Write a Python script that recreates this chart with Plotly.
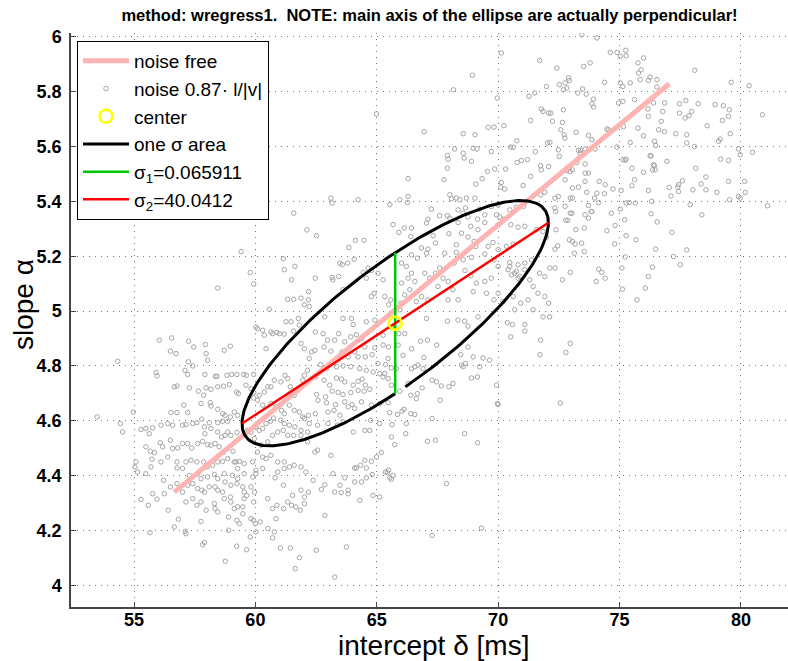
import numpy as np
import plotly.graph_objects as go

TITLE = "method: wregress1.\u00a0 NOTE: main axis of the ellipse are actually perpendicular!"
X_LABEL = "intercept \u03b4 [ms]"
Y_LABEL = "slope \u03b1"
X_TICKS = [55, 60, 65, 70, 75, 80]
X_TICK_TEXT = ["55", "60", "65", "70", "75", "80"]
Y_TICKS = [4.0, 4.2, 4.4, 4.6, 4.8, 5.0, 5.2, 5.4, 5.6, 5.8, 6.0]
Y_TICK_TEXT = ["4", "4.2", "4.4", "4.6", "4.8", "5", "5.2", "5.4", "5.6", "5.8", "6"]
X_RANGE = [52.405, 81.94]
Y_RANGE = [3.921, 6.014]

# noise-free regression line
NOISE_FREE_X = [56.66, 77.05]
NOISE_FREE_Y = [4.340, 5.829]

# estimated centre and the two principal axes of the one-sigma ellipse
CENTER_X = [65.76]
CENTER_Y = [4.956]
SIGMA1_X = [65.76, 65.76]
SIGMA1_Y = [4.699, 5.213]
SIGMA2_X = [59.45, 72.07]
SIGMA2_Y = [4.590, 5.322]
ELLIPSE_GAP = 0.066  # the outline leaves one step open just after its start

# noisy estimates (intercept, slope)
NOISE_POINTS = [
    (61.58, 5.357), (62.12, 5.296), (59.41, 5.217), (61.15, 5.191), (61.63, 5.163), (61.19, 5.151),
    (59.79, 5.141), (61.49, 5.114), (59.93, 5.099), (58.45, 5.084), (62.19, 5.071), (61.33, 5.043),
    (61.58, 5.043), (61.88, 5.047), (62.18, 5.041), (62.01, 5.023), (62.22, 5.017), (60.57, 5.007),
    (70.13, 5.941), (71.71, 5.914), (68.94, 5.86), (68.16, 5.807), (69.96, 5.777), (71.27, 5.783),
    (71.51, 5.795), (71.99, 5.819), (71.78, 5.737), (71.85, 5.728), (72.08, 5.722), (64.99, 5.719),
    (71.34, 5.695), (70.24, 5.676), (69.59, 5.670), (69.83, 5.671), (66.95, 5.654), (68.56, 5.647),
    (69.05, 5.643), (70.77, 5.621), (72.03, 5.613), (72.13, 5.615), (68.21, 5.591), (68.97, 5.594),
    (69.13, 5.591), (70.51, 5.598), (70.62, 5.597), (67.91, 5.567), (67.94, 5.554), (68.56, 5.576),
    (68.60, 5.558), (69.72, 5.582), (71.53, 5.581), (70.96, 5.549), (71.21, 5.552), (70.78, 5.542),
    (71.75, 5.530), (71.78, 5.515), (72.08, 5.527), (68.90, 5.546), (67.91, 5.521), (70.31, 5.518),
    (69.86, 5.518), (69.56, 5.509), (69.34, 5.483), (71.34, 5.491), (71.03, 5.458), (66.29, 5.483),
    (67.77, 5.479), (69.08, 5.463), (70.13, 5.469), (70.11, 5.452), (70.27, 5.445), (71.75, 5.424),
    (71.92, 5.433), (68.01, 5.424), (66.29, 5.418), (65.95, 5.406), (66.26, 5.396), (64.23, 5.406),
    (63.11, 5.412), (63.16, 5.394), (65.54, 5.388), (67.25, 5.372), (68.08, 5.410), (68.28, 5.412),
    (68.42, 5.406), (68.69, 5.412), (69.04, 5.412), (69.24, 5.372), (68.65, 5.376), (68.56, 5.357),
    (68.35, 5.369), (69.45, 5.351), (69.72, 5.381), (70.00, 5.388), (70.48, 5.369), (70.75, 5.379),
    (71.05, 5.382), (67.11, 5.335), (67.05, 5.321), (67.59, 5.348), (67.91, 5.348), (68.01, 5.339),
    (68.35, 5.323), (68.76, 5.343), (69.15, 5.335), (68.87, 5.309), (69.17, 5.297), (69.45, 5.323),
    (69.93, 5.351), (70.07, 5.343), (70.24, 5.335), (70.00, 5.315), (70.52, 5.315), (70.82, 5.306),
    (71.10, 5.309), (71.58, 5.297), (71.85, 5.290), (71.99, 5.270), (67.97, 5.282), (68.28, 5.242),
    (68.76, 5.270), (69.01, 5.254), (69.08, 5.236), (68.49, 5.284), (69.59, 5.236), (69.79, 5.250),
    (70.00, 5.224), (70.34, 5.236), (70.62, 5.244), (67.32, 5.275), (67.42, 5.248), (66.43, 5.303),
    (66.13, 5.303), (66.40, 5.272), (65.91, 5.287), (65.67, 5.315), (64.12, 5.258), (64.48, 5.258),
    (63.85, 5.232), (62.52, 5.275), (66.84, 5.230), (67.11, 5.226), (67.05, 5.211), (66.43, 5.205),
    (66.67, 5.193), (67.80, 5.211), (68.28, 5.214), (68.56, 5.187), (68.19, 5.175), (68.90, 5.196),
    (69.45, 5.208), (69.83, 5.187), (70.00, 5.163), (70.48, 5.177), (70.82, 5.169), (71.10, 5.175),
    (70.41, 5.151), (70.68, 5.138), (70.82, 5.120), (71.37, 5.187), (71.71, 5.138), (71.92, 5.126),
    (72.13, 5.157), (63.48, 5.175), (63.58, 5.169), (63.80, 5.175), (64.07, 5.189), (63.16, 5.123),
    (63.19, 5.114), (63.43, 5.126), (62.47, 5.120), (63.61, 5.078), (64.44, 5.141), (64.64, 5.157),
    (64.78, 5.148), (64.57, 5.120), (65.05, 5.138), (65.26, 5.114), (64.89, 5.065), (64.78, 5.053),
    (65.33, 5.053), (65.58, 5.041), (65.49, 5.023), (66.02, 5.175), (66.22, 5.163), (66.43, 5.138),
    (66.29, 5.120), (66.57, 5.108), (66.02, 5.102), (66.36, 5.078), (66.15, 5.059), (65.99, 5.029),
    (65.95, 5.005), (66.98, 5.138), (67.18, 5.120), (67.42, 5.138), (67.59, 5.157), (67.73, 5.120),
    (67.52, 5.090), (67.94, 5.108), (68.14, 5.078), (68.35, 5.041), (67.94, 5.041), (66.84, 5.053),
    (66.63, 5.035), (67.11, 5.041), (68.63, 5.148), (68.87, 5.129), (69.10, 5.102), (69.45, 5.108),
    (69.72, 5.120), (68.97, 5.071), (69.52, 5.065), (69.83, 5.041), (70.00, 5.065), (70.20, 5.035),
    (70.62, 5.053), (70.48, 5.163), (70.55, 5.132), (70.75, 5.145), (70.89, 5.126), (71.10, 5.151),
    (71.30, 5.114), (71.44, 5.090), (71.64, 5.065), (71.92, 5.053), (72.08, 5.029), (71.23, 5.041),
    (70.93, 5.029), (70.68, 5.005), (71.44, 5.005),
    (73.45, 6.008), (74.07, 5.996), (72.42, 5.886), (73.52, 5.892), (73.79, 5.905), (72.52, 5.826),
    (72.76, 5.832), (72.90, 5.850), (72.93, 5.841), (72.69, 5.807), (72.83, 5.813), (73.28, 5.795),
    (73.63, 5.791), (73.48, 5.810), (73.93, 5.773), (73.86, 5.756), (73.93, 5.744), (74.38, 5.834),
    (74.62, 5.943), (74.90, 5.943), (75.03, 5.929), (75.26, 5.951), (75.27, 5.931), (75.14, 5.819),
    (75.03, 5.832), (75.44, 5.832), (75.62, 5.771), (75.14, 5.765), (74.96, 5.759), (75.76, 5.905),
    (75.89, 5.880), (75.99, 5.923), (75.78, 5.868), (76.26, 5.853), (75.85, 5.844), (76.19, 5.841),
    (76.54, 5.844), (76.54, 5.817), (78.10, 5.878), (79.60, 5.834), (80.34, 5.822), (72.17, 5.722),
    (72.24, 5.692), (72.69, 5.734), (72.65, 5.688), (72.58, 5.661), (72.72, 5.643), (72.75, 5.631),
    (73.21, 5.652), (73.72, 5.641), (73.86, 5.625), (73.58, 5.591), (73.99, 5.591), (73.40, 5.586),
    (72.48, 5.588), (72.52, 5.564), (74.48, 5.664), (74.55, 5.661), (74.89, 5.598), (75.16, 5.673),
    (75.14, 5.552), (75.27, 5.554), (75.44, 5.615), (75.76, 5.667), (75.99, 5.639), (76.19, 5.710),
    (76.17, 5.737), (76.40, 5.759), (76.61, 5.661), (76.72, 5.692), (76.78, 5.728), (76.86, 5.759),
    (76.85, 5.654), (76.44, 5.619), (76.49, 5.604), (76.30, 5.566), (76.40, 5.534), (76.47, 5.515),
    (76.95, 5.546), (77.47, 5.756), (77.73, 5.768), (77.47, 5.722), (77.86, 5.712), (77.97, 5.728),
    (78.24, 5.756), (77.70, 5.704), (77.77, 5.643), (77.32, 5.647), (77.77, 5.613), (78.09, 5.600),
    (78.14, 5.521), (78.94, 5.753), (79.28, 5.749), (79.52, 5.734), (79.49, 5.710), (79.24, 5.695),
    (78.61, 5.676), (79.56, 5.647), (79.15, 5.627), (79.08, 5.619), (79.90, 5.591), (79.97, 5.570),
    (80.48, 5.579), (80.89, 5.716), (79.17, 5.554), (79.49, 5.549), (79.49, 5.473), (79.90, 5.418),
    (79.97, 5.412), (80.18, 5.433), (80.15, 5.473), (81.10, 5.384), (79.53, 5.406), (79.01, 5.433),
    (78.56, 5.489), (78.36, 5.464), (78.56, 5.442), (78.02, 5.442), (77.91, 5.388), (78.39, 5.351),
    (77.59, 5.475), (77.43, 5.461), (77.43, 5.436), (77.40, 5.452), (77.05, 5.451), (77.12, 5.420),
    (77.16, 5.287), (77.77, 5.223), (77.50, 5.169), (77.22, 5.199), (75.51, 5.521), (75.23, 5.550),
    (75.62, 5.479), (75.51, 5.457), (75.99, 5.506), (76.19, 5.440), (76.33, 5.400), (76.36, 5.515),
    (76.44, 5.530), (76.26, 5.566), (75.65, 5.394), (75.27, 5.394), (75.40, 5.396), (75.07, 5.440),
    (75.03, 5.372), (75.21, 5.333), (75.27, 5.275), (75.68, 5.260), (75.23, 5.197), (75.10, 5.157),
    (75.12, 5.080), (76.06, 5.084), (75.72, 5.041), (76.19, 5.126), (76.36, 5.160), (76.49, 5.226),
    (76.30, 5.355), (76.55, 5.325), (74.73, 5.445), (74.66, 5.357), (74.82, 5.312), (74.80, 5.245),
    (74.48, 5.293), (74.41, 5.461), (74.38, 5.428), (74.16, 5.473), (74.07, 5.430), (74.14, 5.396),
    (73.86, 5.363), (73.97, 5.412), (73.65, 5.433), (73.58, 5.473), (73.58, 5.503), (73.72, 5.503),
    (73.58, 5.536), (73.38, 5.576), (73.31, 5.586), (73.24, 5.542), (73.06, 5.515), (72.97, 5.509),
    (72.83, 5.513), (72.76, 5.479), (73.06, 5.449), (73.31, 5.452), (72.97, 5.412), (73.06, 5.412),
    (72.48, 5.418), (72.34, 5.412), (72.76, 5.382), (72.34, 5.376), (72.37, 5.363), (72.97, 5.357),
    (72.87, 5.331), (72.79, 5.331), (73.04, 5.357), (73.58, 5.351), (73.72, 5.385), (73.83, 5.363),
    (73.55, 5.303), (73.72, 5.339), (73.20, 5.297), (73.06, 5.254), (73.17, 5.245), (72.93, 5.260),
    (73.14, 5.211), (73.44, 5.248), (73.55, 5.217), (72.45, 5.238), (72.34, 5.226), (72.38, 5.297),
    (72.34, 5.157), (72.97, 5.141), (72.65, 5.114), (74.14, 5.153), (74.27, 5.141), (74.41, 5.120),
    (74.04, 5.108),
    (72.97, 4.882), (72.79, 4.849), (72.56, 4.665),
    (70.38, 4.958), (70.59, 4.951), (71.10, 4.951), (70.52, 4.906), (71.10, 4.927), (71.75, 4.894),
    (71.72, 4.841), (71.85, 4.979), (72.12, 4.979), (69.93, 4.730), (69.97, 4.663), (70.00, 4.659),
    (69.65, 4.821), (69.38, 4.829), (69.15, 4.760), (69.24, 4.797), (68.90, 4.756), (68.56, 4.797),
    (68.46, 4.841), (68.76, 4.869), (68.97, 4.833), (68.62, 4.553), (69.15, 4.520), (67.87, 4.371),
    (69.31, 4.209), (67.28, 4.182), (67.42, 4.529), (67.09, 4.525), (67.28, 4.608), (67.61, 4.675),
    (67.66, 4.727), (67.97, 4.724), (68.14, 4.736), (67.28, 4.748), (67.46, 4.742), (66.87, 4.720),
    (66.67, 4.699), (66.40, 4.693), (66.57, 4.623), (66.40, 4.626), (66.22, 4.590), (66.19, 4.553),
    (65.63, 4.586), (65.53, 4.630), (65.85, 4.623), (65.74, 4.513), (65.60, 4.541), (66.04, 4.635),
    (66.12, 4.642), (66.63, 4.681), (65.12, 4.590), (65.12, 4.322), (64.78, 4.452), (64.51, 4.456),
    (64.34, 4.438), (64.16, 4.428), (64.57, 4.392), (64.81, 4.404), (65.36, 4.413), (65.49, 4.420),
    (65.60, 4.387), (63.68, 4.392), (63.82, 4.334), (63.54, 4.338), (63.27, 4.340), (63.20, 4.407),
    (62.72, 4.350), (62.38, 4.383), (62.86, 4.255), (63.75, 4.140), (62.51, 4.128), (63.27, 4.030),
    (64.30, 4.310),
    (62.86, 4.979), (63.61, 4.973), (63.96, 4.973), (64.03, 4.951), (64.57, 4.961), (64.92, 4.967),
    (62.47, 4.924), (62.79, 4.918), (62.97, 4.894), (63.27, 4.894), (63.43, 4.918), (63.68, 4.888),
    (63.93, 4.906), (64.16, 4.914), (64.37, 4.900), (64.51, 4.869), (64.92, 4.866), (65.26, 4.876),
    (65.49, 4.869), (62.31, 4.851), (62.45, 4.857), (62.83, 4.869), (63.11, 4.854), (63.57, 4.851),
    (63.82, 4.833), (64.09, 4.851), (64.23, 4.833), (64.53, 4.833), (64.81, 4.841), (65.05, 4.809),
    (65.36, 4.805), (65.60, 4.793), (62.69, 4.805), (62.93, 4.790), (63.34, 4.797), (63.61, 4.800),
    (63.93, 4.797), (64.30, 4.790), (64.57, 4.784), (64.85, 4.778), (65.12, 4.772), (65.26, 4.760),
    (65.47, 4.754), (65.81, 4.790), (62.47, 4.760), (62.83, 4.748), (63.06, 4.730), (63.34, 4.756),
    (63.54, 4.752), (63.68, 4.742), (64.03, 4.730), (64.23, 4.744), (64.40, 4.752), (64.53, 4.730),
    (64.71, 4.715), (62.52, 4.696), (62.89, 4.687), (63.16, 4.708), (63.41, 4.703), (63.61, 4.696),
    (63.93, 4.703), (64.23, 4.711), (64.48, 4.708), (62.58, 4.675), (62.93, 4.666), (63.30, 4.659),
    (63.68, 4.669), (63.98, 4.659), (62.47, 4.626), (62.99, 4.632), (63.24, 4.638), (63.48, 4.620),
    (63.82, 4.651), (64.09, 4.645), (64.37, 4.669), (64.78, 4.657), (65.12, 4.663), (65.47, 4.666),
    (62.56, 4.584), (62.99, 4.590), (63.38, 4.584), (63.61, 4.596), (64.75, 4.602), (64.71, 4.565),
    (64.03, 4.559), (64.51, 4.565), (63.11, 4.474), (62.45, 4.486), (62.56, 4.493), (64.99, 4.468),
    (65.19, 4.484), (65.54, 4.392), (65.44, 4.411), (65.67, 4.401), (64.37, 4.377), (64.09, 4.428),
    (64.09, 4.377), (63.48, 4.365), (64.57, 4.428), (64.85, 4.328), (63.82, 4.347), (62.86, 4.367),
    (66.15, 4.918), (66.80, 4.890), (67.09, 4.894), (67.47, 4.876), (66.94, 4.831), (67.05, 4.973),
    (67.91, 4.963), (68.35, 4.967), (68.62, 4.963), (68.76, 4.945), (69.17, 4.979), (65.88, 4.876),
    (66.43, 4.863), (65.91, 4.918), (66.08, 4.839), (66.57, 4.797), (66.70, 4.803), (66.91, 4.790),
    (66.43, 4.790), (68.49, 4.803), (68.65, 4.809), (65.47, 4.827), (65.26, 4.912), (65.60, 4.942),
    (65.33, 4.772), (65.60, 4.730), (65.95, 4.708), (66.29, 4.736),
    (54.33, 4.817), (53.48, 4.614), (54.44, 4.590), (54.53, 4.559), (54.97, 4.632), (55.08, 4.450),
    (55.04, 4.432), (55.15, 4.413), (55.29, 4.313), (55.59, 4.292), (55.66, 4.192), (56.04, 4.894),
    (56.55, 4.902), (56.50, 4.854), (56.73, 4.845), (57.25, 4.890), (57.46, 4.869), (57.94, 4.878),
    (57.97, 4.845), (58.03, 4.821), (58.72, 4.857), (58.97, 4.872), (55.91, 4.776), (55.95, 4.764),
    (57.24, 4.815), (57.42, 4.800), (57.10, 4.784), (57.21, 4.769), (57.92, 4.769), (58.35, 4.762),
    (58.42, 4.762), (58.83, 4.766), (59.02, 4.769), (59.24, 4.769), (59.52, 4.769), (59.63, 4.766),
    (59.93, 4.769), (57.28, 4.720), (57.65, 4.708), (57.87, 4.693), (57.97, 4.720), (58.17, 4.715),
    (58.45, 4.724), (58.69, 4.726), (58.93, 4.732), (59.23, 4.705), (59.30, 4.699), (59.61, 4.730),
    (59.82, 4.717), (59.93, 4.703), (56.66, 4.724), (56.77, 4.727), (57.05, 4.657), (57.76, 4.663),
    (58.14, 4.666), (58.17, 4.654), (58.45, 4.642), (58.65, 4.626), (58.75, 4.620), (58.97, 4.614),
    (59.13, 4.632), (59.27, 4.620), (56.52, 4.630), (56.77, 4.630), (57.21, 4.630), (57.59, 4.593),
    (57.79, 4.606), (58.10, 4.593), (58.45, 4.593), (58.65, 4.598), (58.86, 4.598), (55.29, 4.568),
    (55.49, 4.572), (55.63, 4.553), (55.77, 4.574), (56.11, 4.584), (56.39, 4.590), (56.59, 4.584),
    (57.00, 4.584), (57.14, 4.586), (57.42, 4.590), (57.90, 4.578), (57.92, 4.553), (58.17, 4.572),
    (58.45, 4.559), (58.61, 4.541), (58.75, 4.547), (58.86, 4.559), (58.99, 4.547), (59.24, 4.557),
    (55.49, 4.505), (55.67, 4.489), (55.84, 4.484), (56.08, 4.520), (56.18, 4.505), (56.50, 4.529),
    (56.59, 4.499), (56.80, 4.501), (57.00, 4.517), (57.21, 4.517), (57.38, 4.501), (57.62, 4.517),
    (57.83, 4.525), (58.03, 4.513), (58.17, 4.511), (58.34, 4.517), (58.51, 4.505), (58.69, 4.486),
    (58.86, 4.499), (59.08, 4.489), (59.20, 4.450), (59.34, 4.452), (55.49, 4.407), (55.70, 4.432),
    (55.74, 4.460), (56.11, 4.450), (56.39, 4.468), (56.77, 4.450), (56.77, 4.428), (57.00, 4.426),
    (57.14, 4.450), (57.35, 4.456), (57.59, 4.450), (57.87, 4.450), (58.01, 4.432), (58.24, 4.438),
    (58.45, 4.450), (58.65, 4.452), (58.86, 4.462), (59.13, 4.450), (59.27, 4.426), (59.54, 4.444),
    (59.89, 4.450), (57.28, 4.401), (57.62, 4.407), (57.76, 4.389), (58.03, 4.395), (58.31, 4.404),
    (58.45, 4.389), (58.72, 4.407), (59.06, 4.401), (59.27, 4.389), (59.54, 4.407), (59.89, 4.395),
    (60.02, 4.407), (56.22, 4.383), (56.50, 4.359), (56.77, 4.371), (57.00, 4.340), (57.21, 4.365),
    (57.42, 4.371), (57.62, 4.353), (57.79, 4.347), (57.90, 4.340), (58.10, 4.359), (58.34, 4.359),
    (58.45, 4.347), (58.65, 4.340), (58.75, 4.377), (58.99, 4.365), (59.24, 4.371), (59.48, 4.359),
    (59.54, 4.340), (59.82, 4.359), (59.96, 4.340), (56.25, 4.334), (55.77, 4.334), (55.95, 4.314),
    (56.41, 4.274), (57.14, 4.304), (57.42, 4.316), (57.59, 4.292), (57.76, 4.304), (57.97, 4.274),
    (58.31, 4.298), (58.34, 4.280), (58.45, 4.268), (58.72, 4.316), (58.97, 4.322), (58.99, 4.304),
    (59.13, 4.280), (59.27, 4.286), (59.48, 4.286), (59.54, 4.316), (59.64, 4.328), (59.93, 4.304),
    (60.20, 4.231), (56.83, 4.241), (56.66, 4.213), (57.11, 4.197), (57.14, 4.188), (57.76, 4.233),
    (57.83, 4.148), (57.90, 4.156), (58.89, 4.249), (58.90, 4.201), (59.24, 4.237), (59.34, 4.225),
    (59.48, 4.261), (59.82, 4.243), (59.93, 4.237), (60.00, 4.225), (60.02, 4.195), (59.79, 4.176),
    (58.76, 4.088), (59.23, 4.143), (59.64, 4.130), (60.81, 4.392), (60.51, 4.316), (60.71, 4.280),
    (60.89, 4.292), (61.16, 4.280), (61.33, 4.304), (61.49, 4.292), (61.67, 4.286), (61.85, 4.274),
    (62.02, 4.298), (62.18, 4.340), (61.88, 4.347), (62.02, 4.322), (61.53, 4.328), (61.16, 4.365),
    (60.85, 4.243), (60.71, 4.173), (61.03, 4.136), (61.44, 4.136), (61.64, 4.061), (61.82, 4.101),
    (60.51, 4.207), (60.78, 4.195),
    (60.02, 4.942), (60.09, 4.936), (60.30, 4.930), (60.37, 4.912), (60.44, 4.863), (60.64, 4.924),
    (60.71, 4.918), (60.89, 4.922), (60.99, 4.918), (61.19, 4.916), (61.26, 4.961), (61.47, 4.961),
    (61.77, 4.973), (61.81, 4.949), (61.58, 4.927), (61.88, 4.882), (62.02, 4.863), (62.22, 4.827),
    (62.15, 4.784), (62.02, 4.766), (61.95, 4.748), (61.74, 4.711), (61.60, 4.693), (61.44, 4.724),
    (61.33, 4.754), (61.22, 4.766), (61.05, 4.742), (60.78, 4.748), (60.64, 4.724), (60.51, 4.724),
    (60.37, 4.705), (60.16, 4.693), (59.93, 4.683), (60.09, 4.675), (60.30, 4.657), (60.64, 4.663),
    (60.85, 4.651), (61.08, 4.638), (61.19, 4.626), (61.40, 4.657), (61.60, 4.638), (61.81, 4.632),
    (61.95, 4.614), (62.02, 4.608), (62.18, 4.620), (62.22, 4.590), (62.15, 4.559), (61.88, 4.565),
    (61.63, 4.578), (61.40, 4.584), (61.19, 4.590), (61.05, 4.602), (60.75, 4.610), (60.62, 4.598),
    (60.44, 4.590), (60.30, 4.572), (60.16, 4.565), (60.02, 4.578), (59.82, 4.559), (59.68, 4.565),
    (59.96, 4.535), (60.23, 4.511), (60.51, 4.523), (60.71, 4.547), (60.92, 4.559), (61.15, 4.565),
    (61.33, 4.547), (61.58, 4.547), (61.88, 4.547), (62.15, 4.523), (60.09, 4.486), (60.30, 4.468),
    (60.44, 4.462), (60.64, 4.474), (60.92, 4.450), (61.19, 4.450), (61.40, 4.432), (61.60, 4.438),
    (61.88, 4.432), (62.08, 4.413), (60.92, 4.413), (61.19, 4.426), (60.30, 4.426), (60.02, 4.420),
]
NOISE_X = [p[0] for p in NOISE_POINTS]
NOISE_Y = [p[1] for p in NOISE_POINTS]

# one-sigma ellipse spanned by the two axes as conjugate half-diameters
cx, cy = CENTER_X[0], CENTER_Y[0]
ux, uy = (SIGMA2_X[1] - SIGMA2_X[0]) / 2, (SIGMA2_Y[1] - SIGMA2_Y[0]) / 2
vx, vy = (SIGMA1_X[1] - SIGMA1_X[0]) / 2, (SIGMA1_Y[1] - SIGMA1_Y[0]) / 2
t = np.linspace(-np.pi / 2 + ELLIPSE_GAP, 1.5 * np.pi, 300)
ELLIPSE_X = cx + ux * np.cos(t) + vx * np.sin(t)
ELLIPSE_Y = cy + uy * np.cos(t) + vy * np.sin(t)

FONT = "Liberation Sans, Arial, Helvetica, sans-serif"
AXIS_COLOR = "rgb(70,70,70)"
PLOT_LEFT, PLOT_TOP, PLOT_BOTTOM = 71, 33, 607

fig = go.Figure()
fig.add_trace(go.Scatter(
    x=NOISE_X, y=NOISE_Y, mode="markers", name="noise 0.87\u00b7 l/|v|", legendrank=2,
    marker=dict(symbol="circle-open", size=4.5, color="rgb(165,165,165)", line=dict(width=1)),
))
fig.add_trace(go.Scatter(
    x=NOISE_FREE_X, y=NOISE_FREE_Y, mode="lines", name="noise free", legendrank=1,
    line=dict(color="rgb(255,180,180)", width=5),
))
fig.add_trace(go.Scatter(
    x=ELLIPSE_X, y=ELLIPSE_Y, mode="lines", name="one \u03c3 area", legendrank=4,
    line=dict(color="black", width=3),
))
fig.add_trace(go.Scatter(
    x=SIGMA1_X, y=SIGMA1_Y, mode="lines", name="\u03c3<sub>1</sub>=0.065911", legendrank=5,
    line=dict(color="rgb(0,200,0)", width=2.5),
))
fig.add_trace(go.Scatter(
    x=SIGMA2_X, y=SIGMA2_Y, mode="lines", name="\u03c3<sub>2</sub>=40.0412", legendrank=6,
    line=dict(color="rgb(255,0,0)", width=2.5),
))
fig.add_trace(go.Scatter(
    x=CENTER_X, y=CENTER_Y, mode="markers", name="center", legendrank=3,
    marker=dict(symbol="circle-open", size=13, color="rgb(255,255,0)", line=dict(width=2.5)),
))

axis_common = dict(
    showline=True, linecolor=AXIS_COLOR, linewidth=1.5, mirror=False,
    ticks="inside", ticklen=5, tickwidth=1, tickcolor=AXIS_COLOR,
    showgrid=True, gridcolor="rgb(120,120,120)", gridwidth=1, griddash="1px,5px",
    zeroline=False,
    tickfont=dict(family=FONT, size=18, color="black"),
)

plot_h = PLOT_BOTTOM - PLOT_TOP
fig.update_layout(
    width=788, height=661,
    margin=dict(l=PLOT_LEFT, r=0, t=PLOT_TOP, b=661 - PLOT_BOTTOM),
    paper_bgcolor="white", plot_bgcolor="white",
    font=dict(family=FONT, color="black"),
    title=dict(
        text="<b>" + TITLE + "</b>", x=0.5, xref="paper", xanchor="center",
        y=1 - 15 / 661, yref="container", yanchor="middle",
        font=dict(family=FONT, size=16.5, color="black"),
    ),
    xaxis=dict(
        range=X_RANGE, tickvals=X_TICKS, ticktext=["<b>%s</b>" % s for s in X_TICK_TEXT],
        ticklabelstandoff=-4, **axis_common,
    ),
    yaxis=dict(
        range=Y_RANGE, tickvals=Y_TICKS, ticktext=["<b>%s</b>" % s for s in Y_TICK_TEXT],
        ticklabelstandoff=4, **axis_common,
    ),
    annotations=[
        dict(text=X_LABEL, xref="paper", yref="paper", x=0.505, y=0,
             xanchor="center", yanchor="middle", yshift=-(645 - PLOT_BOTTOM), showarrow=False,
             font=dict(family=FONT, size=28, color="black")),
        dict(text=Y_LABEL, xref="paper", yref="paper", x=0, y=(PLOT_BOTTOM - 305) / plot_h,
             textangle=-90, xanchor="center", yanchor="middle", xshift=23 - PLOT_LEFT,
             showarrow=False, font=dict(family=FONT, size=28, color="black")),
    ],
    showlegend=True,
    legend=dict(
        x=(77 - PLOT_LEFT) / 717, y=(PLOT_BOTTOM - 41) / plot_h, xanchor="left", yanchor="top",
        bgcolor="white", bordercolor="black", borderwidth=1,
        font=dict(family=FONT, size=19, color="black"),
        itemwidth=46, traceorder="normal",
    ),
)

fig.write_html("out.html")
